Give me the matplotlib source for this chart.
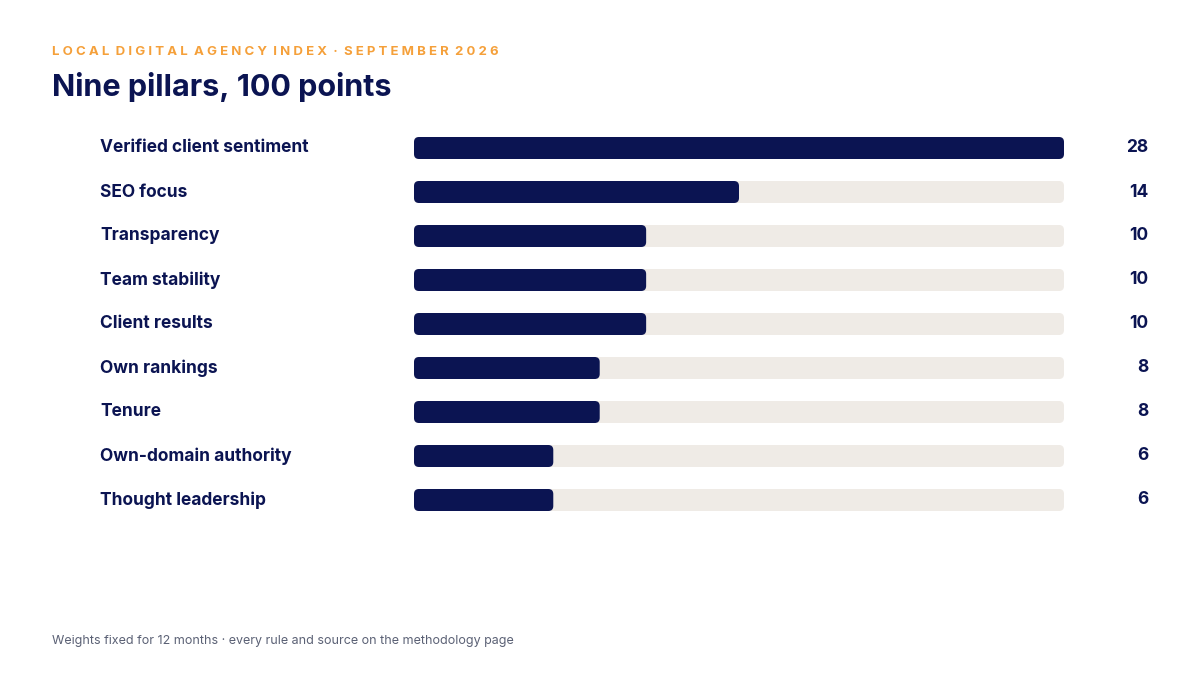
import matplotlib
matplotlib.use("Agg")
import matplotlib.pyplot as plt
from matplotlib.patches import FancyBboxPatch

categories = ["Verified client sentiment", "SEO focus", "Transparency", "Team stability",
              "Client results", "Own rankings", "Tenure", "Own-domain authority", "Thought leadership"]
values = [28, 14, 10, 10, 10, 8, 8, 6, 6]
max_points = 28

NAVY = "#0B1452"
TRACK = "#EFEBE6"
ORANGE = "#F5A03A"
GREY = "#5B6175"
plt.rcParams['font.family'] = ['Inter', 'DejaVu Sans']

W, H = 1200, 675
fig = plt.figure(figsize=(12, 6.75), dpi=100)
fig.patch.set_facecolor("white")
ax = fig.add_axes([414 / W, 1 - 522 / H, 650 / W, 396 / H])
ax.set_xlim(0, max_points)
ax.set_ylim(len(categories) - 0.5, -0.5)
ax.axis("off")

bh = 22 / 44
px_x = 650 / max_points
r_px = 5
rx = r_px / px_x
aspect = (r_px / 44) / rx

for i, (c, v) in enumerate(zip(categories, values)):
    ax.add_patch(FancyBboxPatch((0, i - bh / 2), max_points, bh,
                                boxstyle=f"round,pad=0,rounding_size={rx}",
                                mutation_aspect=aspect, fc=TRACK, ec="none"))
    ax.add_patch(FancyBboxPatch((0, i - bh / 2), v, bh,
                                boxstyle=f"round,pad=0,rounding_size={rx}",
                                mutation_aspect=aspect, fc=NAVY, ec="none"))
    y = 1 - (148 + 44 * i) / H
    fig.text(100 / W, y, c, ha="left", va="center", fontsize=12.5,
             fontweight="bold", color=NAVY)
    fig.text(1148 / W, y, str(v), ha="right", va="center", fontsize=12.5,
             fontweight="bold", color=NAVY)

fig.text(52 / W, 1 - 52 / H, "L O C A L   D I G I T A L   A G E N C Y   I N D E X   ·   S E P T E M B E R   2 0 2 6".replace("   ", "  "),
         ha="left", va="center", fontsize=9.5, fontweight="bold", color=ORANGE)
fig.text(52 / W, 1 - 87 / H, "Nine pillars, 100 points", ha="left", va="center",
         fontsize=22, fontweight="bold", color=NAVY)
fig.text(52 / W, 1 - 641 / H,
         "Weights fixed for 12 months · every rule and source on the methodology page",
         ha="left", va="center", fontsize=9, color=GREY)

fig.savefig("out.png", dpi=100, facecolor="white")
